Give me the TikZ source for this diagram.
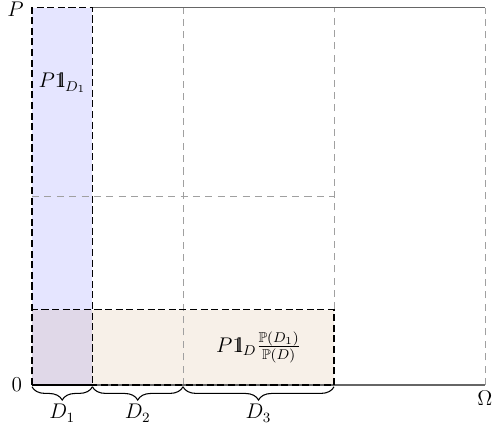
\documentclass[tikz,border=0pt]{standalone}
\usepackage{amsmath}
\usepackage{amssymb}
\usepackage{tikz}
\usetikzlibrary{decorations.pathreplacing}
\newcommand{\indic}{\mathrm{1\kern-0.29em l}}
\definecolor{AxisGray}{HTML}{666666}
\definecolor{GridGray}{HTML}{A0A0A0}
\tikzset{
  axisline/.style={draw=AxisGray, line width=0.7pt},
  gridline/.style={draw=GridGray, line width=0.5pt, dash pattern=on 4pt off 3pt},
  setborder/.style={draw=black, line width=0.8pt, dash pattern=on 4pt off 2pt},
  setoneFill/.style={fill=blue, fill opacity=0.1},
  setFill/.style={fill=brown, fill opacity=0.12},
  partbrace/.style={decorate, decoration={brace, mirror, amplitude=7.5pt, raise=1pt}, line width=0.6pt},
  mathlabel/.style={font=\fontsize{11.5}{14}\selectfont, inner sep=2pt},
}

\begin{document}
\begin{tikzpicture}[x=3cm,y=7.5cm]
\useasboundingbox (-0.212,-0.135) rectangle (3.073,1.02);

% partition points
\coordinate (o) at (0,0);
\coordinate (b1) at (0.4,0);
\coordinate (b2) at (1,0);
\coordinate (b3) at (2,0);
\coordinate (w) at (3,0);
\coordinate (top) at (0,1);

% shaded sets
\fill[setoneFill] (o) rectangle (0.4,1);
\fill[setFill] (o) rectangle (2,0.2);

% grid
\draw[gridline] (1,0) -- (1,1);
\draw[gridline] (2,0.2) -- (2,1);
\draw[gridline] (3,0) -- (3,1);
\draw[gridline] (0,0.5) -- (2,0.5);

% axes
\draw[axisline] (o) -- (w);
\draw[axisline] (0.4,1) -- (3,1);

% set borders
\draw[setborder] (o) rectangle (0.4,1);
\draw[setborder] (o) rectangle (2,0.2);

% labels
\node[mathlabel,left=2.5pt] (Plabel) at ([yshift=-1pt]top) {$P$};
\node[mathlabel,left=3.5pt] (zero) at (o) {$0$};
\node[mathlabel,below=1pt] (omega) at (w) {$\Omega$};
\node[mathlabel] (indone) at (0.2,0.8) {$P\indic_{D_1}$};
\node[mathlabel] (indD) at (1.5,0.1) {$P\indic_D\frac{\mathbb{P}(D_1)}{\mathbb{P}(D)}$};

% braces
\draw[partbrace] (o) -- (b1);
\draw[partbrace] (b1) -- (b2);
\draw[partbrace] (b2) -- (b3);
\node[mathlabel] (d1) at (0.2,-0.075) {$D_1$};
\node[mathlabel] (d2) at (0.7,-0.075) {$D_2$};
\node[mathlabel] (d3) at (1.5,-0.075) {$D_3$};
\end{tikzpicture}
\end{document}
